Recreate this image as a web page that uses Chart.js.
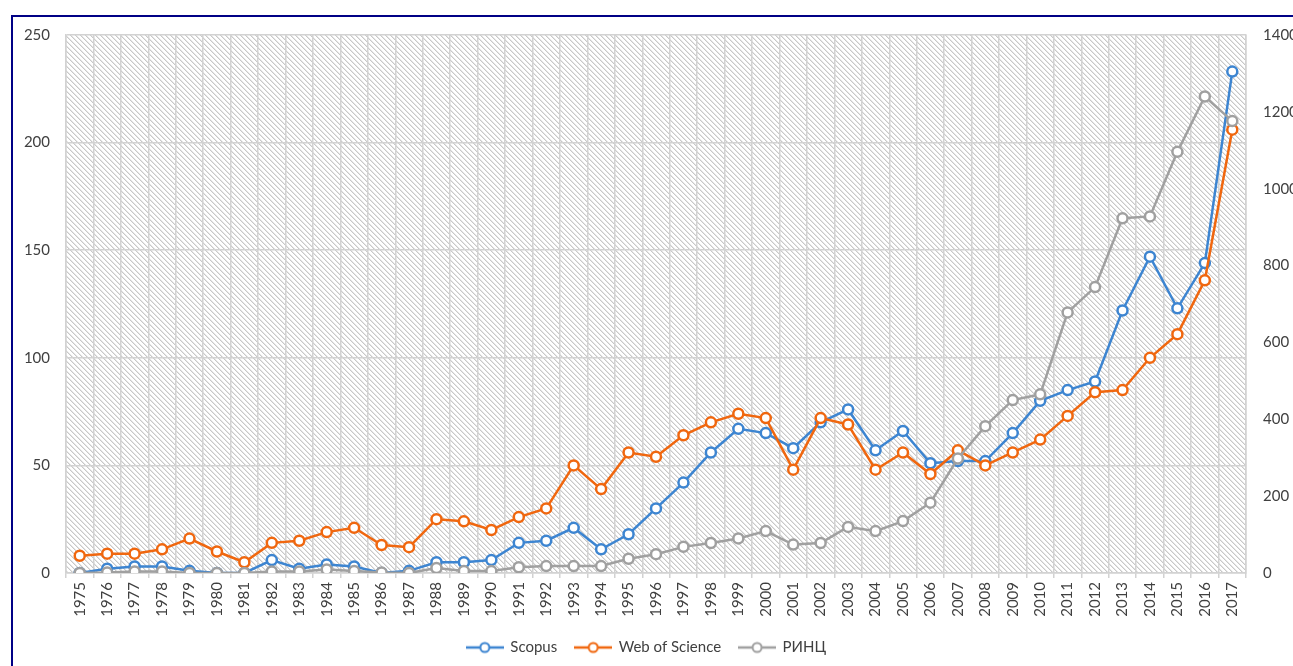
<!DOCTYPE html>
<html>
<head>
<meta charset="utf-8">
<script src="https://cdn.jsdelivr.net/npm/chart.js@4.4.0/dist/chart.umd.min.js"></script>
<style>
  html, body { margin: 0; padding: 0; background: #ffffff; overflow: hidden; }
  #frame { position: absolute; left: 11px; top: 15px; width: 1400px; height: 800px; border: 2px solid #000085; box-sizing: border-box; }
  #wrap { position: absolute; left: 0; top: 0; width: 1293px; height: 666px; }
</style>
</head>
<body>
<div id="frame"></div>
<div id="wrap"><canvas id="c" width="1293" height="666"></canvas></div>
<script>
const years = ['1975','1976','1977','1978','1979','1980','1981','1982','1983','1984','1985','1986','1987','1988',
  '1989','1990','1991','1992','1993','1994','1995','1996','1997','1998','1999','2000','2001','2002','2003','2004',
  '2005','2006','2007','2008','2009','2010','2011','2012','2013','2014','2015','2016','2017'];
const scopus = [0,2,3,3,1,0,0,6,2,4,3,0,1,5,
  5,6,14,15,21,11,18,30,42,56,67,65,58,70,76,57,
  66,51,52,52,65,80,85,89,122,147,123,144,233];
const wos = [8,9,9,11,16,10,5,14,15,19,21,13,12,25,
  24,20,26,30,50,39,56,54,64,70,74,72,48,72,69,48,
  56,46,57,50,56,62,73,84,85,100,111,136,206];
const rinc = [0,1,4,4,0,0,0,4,4,9,5,1,0,13,
  5,5,15,18,18,18,37,49,68,78,90,109,74,78,120,109,
  135,183,298,382,450,465,678,744,923,928,1096,1240,1176];
const seriesNames = ['Scopus', 'Web of Science', 'РИНЦ'];
const seriesColors = ['#3d85d1', '#f0670f', '#a0a0a0'];
const leftTicks = { min: 0, max: 250, step: 50 };
const rightTicks = { min: 0, max: 1400, step: 200 };

const FONT = 'Lato';
const FSIZE = 15;
const TEXT = '#404040';
const GRID = '#d2d2d2';

function makeHatch() {
  const n = 5;
  const t = document.createElement('canvas');
  t.width = n; t.height = n;
  const g = t.getContext('2d');
  g.fillStyle = '#ffffff';
  g.fillRect(0, 0, n, n);
  for (let i = 0; i < n; i++) {
    g.fillStyle = '#c8c8c8';
    g.fillRect(i, i, 1, 1);
    g.fillStyle = '#e6e6e6';
    g.fillRect((i + 1) % n, i, 1, 1);
  }
  return t;
}

function legendIcon(color) {
  const c = document.createElement('canvas');
  c.width = 38; c.height = 14;
  const g = c.getContext('2d');
  g.strokeStyle = color;
  g.lineWidth = 2.5;
  g.beginPath(); g.moveTo(0, 7); g.lineTo(38, 7); g.stroke();
  g.beginPath(); g.arc(19, 7, 4.5, 0, Math.PI * 2);
  g.fillStyle = '#ffffff'; g.fill();
  g.lineWidth = 2; g.stroke();
  return c;
}

const hatchPlugin = {
  id: 'hatch',
  beforeDraw(chart) {
    const { ctx, chartArea: a } = chart;
    ctx.save();
    ctx.fillStyle = ctx.createPattern(makeHatch(), 'repeat');
    ctx.fillRect(a.left, a.top, a.right - a.left, a.bottom - a.top);
    ctx.restore();
  }
};

const mk = (i, data, axis, order) => ({
  label: seriesNames[i],
  data: data,
  yAxisID: axis,
  order: order,
  borderColor: seriesColors[i],
  backgroundColor: '#ffffff',
  borderWidth: 2.5,
  pointRadius: 5,
  pointBorderWidth: 2.5,
  pointBackgroundColor: '#ffffff',
  pointBorderColor: seriesColors[i],
  tension: 0,
  fill: false
});

new Chart(document.getElementById('c'), {
  type: 'line',
  data: {
    labels: years,
    datasets: [
      mk(0, scopus, 'y', 3),
      mk(1, wos, 'y', 2),
      mk(2, rinc, 'y2', 1)
    ]
  },
  options: {
    responsive: false,
    animation: false,
    layout: { padding: { top: 35, left: 0, right: 0, bottom: 1 } },
    plugins: {
      tooltip: { enabled: false },
      legend: {
        position: 'bottom',
        labels: {
          usePointStyle: true,
          pointStyleWidth: 36,
          boxHeight: FSIZE,
          padding: 18,
          color: TEXT,
          font: { family: FONT, size: FSIZE },
          generateLabels(chart) {
            return chart.data.datasets.map((d, i) => ({
              text: d.label,
              pointStyle: legendIcon(seriesColors[i]),
              fillStyle: '#ffffff',
              strokeStyle: seriesColors[i],
              lineWidth: 0,
              fontColor: TEXT,
              hidden: false,
              datasetIndex: i
            }));
          }
        }
      }
    },
    scales: {
      x: {
        type: 'category',
        offset: true,
        grid: { offset: true, color: GRID, lineWidth: 1.5, drawTicks: true, tickLength: 5, tickColor: GRID },
        border: { color: GRID, width: 1.5 },
        ticks: { autoSkip: false, maxRotation: 90, minRotation: 90, padding: 4, color: TEXT, font: { family: FONT, size: FSIZE } },
        afterFit(s) { s.height = 49; }
      },
      y: {
        position: 'left',
        min: leftTicks.min, max: leftTicks.max,
        grid: { color: GRID, lineWidth: 1.5, drawTicks: false },
        border: { color: GRID, width: 1.5 },
        ticks: { stepSize: leftTicks.step, padding: 16, color: TEXT, font: { family: FONT, size: FSIZE },
          callback: v => String(v) },
        afterFit(s) { s.width = 66; }
      },
      y2: {
        position: 'right',
        min: rightTicks.min, max: rightTicks.max,
        grid: { drawOnChartArea: false, drawTicks: false },
        border: { color: GRID, width: 1.5 },
        ticks: { stepSize: rightTicks.step, padding: 17, color: TEXT, font: { family: FONT, size: FSIZE },
          callback: v => String(v) },
        afterFit(s) { s.width = 47; }
      }
    }
  },
  plugins: [hatchPlugin]
});
</script>
</body>
</html>
